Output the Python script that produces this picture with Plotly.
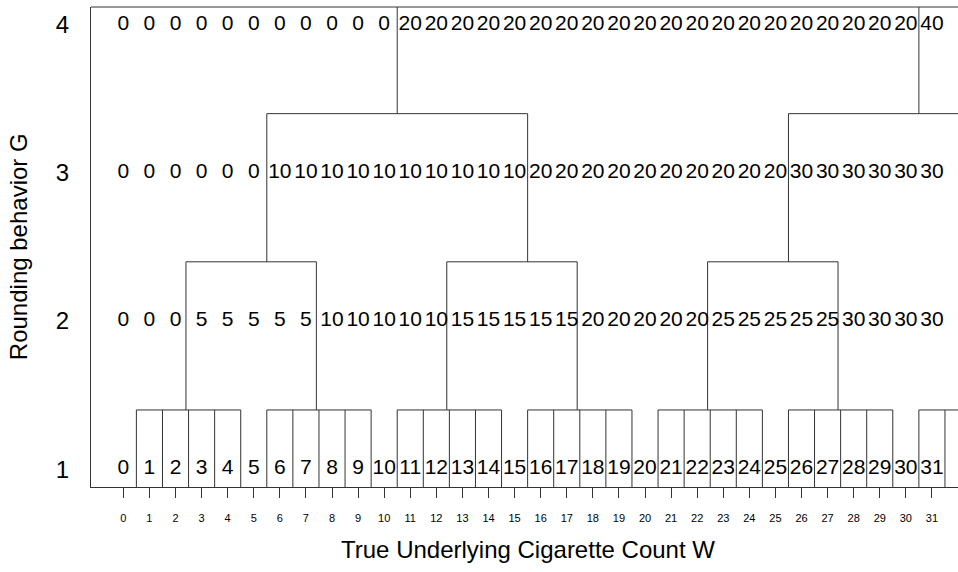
import plotly.graph_objects as go

# ---- data ----
W = list(range(32))
G1_labels = [0, 1, 2, 3, 4, 5, 6, 7, 8, 9, 10, 11, 12, 13, 14, 15,
             16, 17, 18, 19, 20, 21, 22, 23, 24, 25, 26, 27, 28, 29, 30, 31]
G2_labels = [0, 0, 0, 5, 5, 5, 5, 5, 10, 10, 10, 10, 10, 15, 15, 15,
             15, 15, 20, 20, 20, 20, 20, 25, 25, 25, 25, 25, 30, 30, 30, 30]
G3_labels = [0, 0, 0, 0, 0, 0, 10, 10, 10, 10, 10, 10, 10, 10, 10, 10,
             20, 20, 20, 20, 20, 20, 20, 20, 20, 20, 30, 30, 30, 30, 30, 30]
G4_labels = [0, 0, 0, 0, 0, 0, 0, 0, 0, 0, 0, 20, 20, 20, 20, 20,
             20, 20, 20, 20, 20, 20, 20, 20, 20, 20, 20, 20, 20, 20, 20, 40]
levels = [1, 2, 3, 4]
level_labels = [G1_labels, G2_labels, G3_labels, G4_labels]

# bracket spans (group boundaries) for each level
level1_spans = [(0.5, 4.5), (5.5, 9.5), (10.5, 14.5), (15.5, 19.5),
                (20.5, 24.5), (25.5, 29.5), (30.5, 34.5)]
level2_spans = [(2.4, 7.4), (12.4, 17.4), (22.4, 27.4), (32.4, 37.4)]
level3_spans = [(5.5, 15.5), (25.5, 35.5)]
level4_drops = [10.5, 30.5]
bracket_heights = [1.4, 2.4, 3.4]

x_ticks = list(range(32))
x_tick_text = [str(v) for v in x_ticks]
y_ticks = [1, 2, 3, 4]
y_tick_text = ["1", "2", "3", "4"]

X_RANGE = [-1.24, 32.0]
Y_RANGE = [0.88, 4.12]

LINE = "#333333"
FONT = "Liberation Sans, Arial, sans-serif"

# ---- build line segments ----
xs, ys = [], []


def seg(x0, y0, x1, y1):
    xs.extend([x0, x1, None])
    ys.extend([y0, y1, None])


h1, h2, h3 = bracket_heights
# level 1: horizontal + verticals at each half-integer down to the axis
for a, b in level1_spans:
    seg(a, h1, b, h1)
    v = a
    while v <= b + 1e-9:
        seg(v, Y_RANGE[0], v, h1)
        v += 1.0
# level 2: horizontal + ends dropping to level 1
for a, b in level2_spans:
    seg(a, h2, b, h2)
    seg(a, h1, a, h2)
    seg(b, h1, b, h2)
# level 3
for a, b in level3_spans:
    seg(a, h3, b, h3)
    seg(a, h2, a, h3)
    seg(b, h2, b, h3)
# level 4 drops to the top
for v in level4_drops:
    seg(v, h3, v, Y_RANGE[1])

fig = go.Figure()
fig.add_trace(go.Scatter(x=xs, y=ys, mode="lines",
                         line=dict(color=LINE, width=1),
                         hoverinfo="skip", showlegend=False))

for lev, labs in zip(levels, level_labels):
    fig.add_trace(go.Scatter(
        x=W, y=[lev] * len(W), mode="text",
        text=[str(v) for v in labs],
        textposition="middle center",
        textfont=dict(family=FONT, size=21, color="black"),
        hoverinfo="skip", showlegend=False, cliponaxis=False))

fig.update_layout(
    width=958, height=572, autosize=False,
    margin=dict(l=91, r=0, t=7, b=85),
    paper_bgcolor="white", plot_bgcolor="white",
    font=dict(family=FONT, color="black"),
    xaxis=dict(range=X_RANGE, showgrid=False, zeroline=False,
               showline=True, linecolor=LINE, linewidth=1,
               tickmode="array", tickvals=x_ticks, ticktext=x_tick_text,
               ticks="outside", ticklen=10, tickcolor=LINE, tickwidth=1,
               tickfont=dict(size=11, family=FONT, color="black"),
               ticklabelstandoff=11, fixedrange=True),
    yaxis=dict(range=Y_RANGE, showgrid=False, zeroline=False,
               showline=True, linecolor=LINE, linewidth=1,
               tickmode="array", tickvals=y_ticks, ticktext=y_tick_text,
               ticks="", tickfont=dict(size=24, family=FONT, color="black"),
               ticklabelstandoff=16, fixedrange=True),
    shapes=[dict(type="line", xref="paper", yref="paper",
                 x0=0, x1=1, y0=1, y1=1,
                 line=dict(color=LINE, width=1))],
    annotations=[
        dict(text="True Underlying Cigarette Count W", xref="paper", yref="paper",
             x=0.504, y=-0.131, xanchor="center", yanchor="middle",
             showarrow=False, font=dict(size=24, family=FONT, color="black")),
        dict(text="Rounding behavior G", xref="paper", yref="paper",
             x=-0.084, y=0.5, xanchor="center", yanchor="middle",
             textangle=-90, showarrow=False,
             font=dict(size=24, family=FONT, color="black")),
    ],
)

fig.write_html("out.html", config={"displayModeBar": False})
